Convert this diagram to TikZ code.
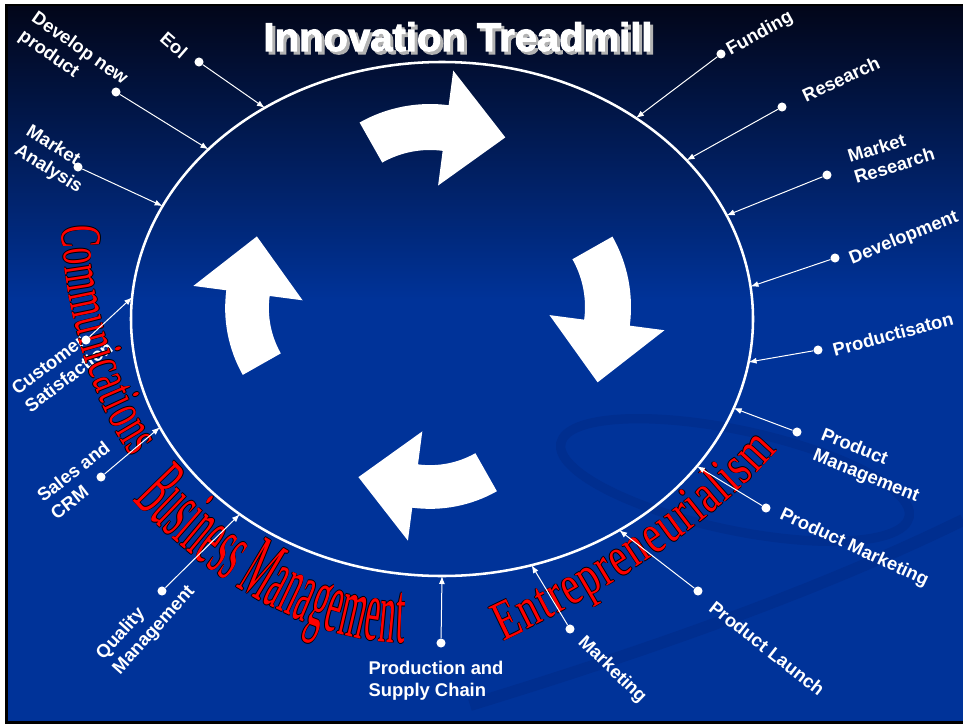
\documentclass[tikz,border=0pt]{standalone}
\usepackage{fontspec}
\setmainfont{Liberation Sans}
\newfontfamily\titleface{Liberation Sans}[BoldFeatures={FakeBold=2.5}]
\newfontfamily\commfont{Liberation Serif}[FakeStretch=0.57]
\newfontfamily\busfont{Liberation Serif}[FakeStretch=0.37]
\newfontfamily\entfont{Liberation Serif}[FakeStretch=0.72]
\usetikzlibrary{arrows.meta, shapes.geometric, decorations.text}

\definecolor{slideblue}{RGB}{0,51,153}
\definecolor{slidetop}{RGB}{2,6,26}
\definecolor{swirl}{RGB}{0,46,143}
\definecolor{artred}{RGB}{255,0,0}

% curved block arrow round its own centre: x, y, rotation, scale
\newcommand\turnarrow[4]{%
  \fill[white, shift={(#1,#2)}, rotate=#3, scale=#4]
    (119.5:143) arc[start angle=119.5, end angle=82.5, radius=143]
    -- (82.5:178) -- (55.5:133) -- (82.5:62) -- (82.5:97)
    arc[start angle=82.5, end angle=119.5, radius=97] -- cycle;}

% red lettering along a path, with a thin black rim
\newcommand\artword[3]{%
  \foreach \dx/\dy in {-0.7/0, 0.7/0, 0/-0.7, 0/0.7}
    \path[shift={(\dx,\dy)}, decorate, decoration={text along path,
      text align=fit to path, text color=black, text={|#1|#2}}] #3;
  \path[decorate, decoration={text along path,
    text align=fit to path, text color=artred, text={|#1|#2}}] #3;}

\begin{document}
\begin{tikzpicture}[x=0.75pt, y=0.75pt]

\useasboundingbox (0,0) rectangle (963,-724);

% slide background
\fill[white] (0,0) rectangle (963,-724);
\fill[black] (5,-4) rectangle (963,-724);
\fill[slideblue] (8,-7) rectangle (963,-721);
\shade[top color=slidetop, bottom color=slideblue] (8,-7) rectangle (963,-300);
\draw[swirl, line width=7pt, rotate around={-12:(735,-480)}]
  (735,-480) ellipse [x radius=178, y radius=50];
\draw[swirl, line width=9pt] (470,-705) .. controls (650,-650) and (820,-590) .. (963,-520);

% title
\begin{scope}[every node/.style={anchor=base, font=\titleface\bfseries\fontsize{30}{31}\selectfont}]
\node[text=gray!60] (shadow) at (461,-54) {Innovation Treadmill};
\node[text=white] (title) at (458,-51) {Innovation Treadmill};
\end{scope}

% the treadmill
\node[ellipse, draw=white, line width=1.9pt, minimum width=466.5pt, minimum height=385.5pt,
  inner sep=0pt, outer sep=0pt] (loop) at (442,-319) {};

\turnarrow{430}{-247}{0}{1}
\turnarrow{488}{-307}{-90}{1}
\turnarrow{430}{-373}{180}{0.95}
\turnarrow{361}{-308}{90}{0.95}

% stages round the loop
\begin{scope}[every node/.style={text=white, align=left, inner sep=0pt,
  font=\bfseries\fontsize{13.8}{16.5}\selectfont}]
\node (eol) at (174,-45) [rotate=-41] {Eol};
\node (newprod) at (73,-58) [rotate=-35] {Develop new\\product};
\node (mktan) at (54,-160) [rotate=-32] {Market\\Analysis};
\node (custsat) at (62,-368) [rotate=37] {Customer\\Satisfaction};
\node (sales) at (80,-480) [rotate=38] {Sales and\\CRM};
\node (quality) at (146,-623) [rotate=48] {Quality\\Management};
\node (supply) at (436,-681) {Production and\\Supply Chain};
\node (mkting) at (612,-670) [rotate=-44] {Marketing};
\node (launch) at (767,-648) [rotate=-38] {Product Launch};
\node (prodmkt) at (854,-548) [rotate=-25] {Product Marketing};
\node (prodmgmt) at (870,-466) [rotate=-22] {Product\\Management};
\node (prodn) at (893,-334) [rotate=15] {Productisaton};
\node (devel) at (904,-238) [rotate=22] {Development};
\node (mktres) at (891,-155) [rotate=17] {Market\\Research};
\node (research) at (841,-79) [rotate=25] {Research};
\node (funding) at (760,-34) [rotate=29] {Funding};
\end{scope}

% word art
\artword{\commfont\fontsize{43.5}{50}\selectfont}{Communications}
  {(62,-226) .. controls (63,-300) and (90,-400) .. (132,-457)}
\artword{\busfont\fontsize{66}{72}\selectfont}{Business Management}
  {(133,-500) .. controls (178,-548) and (280,-640) .. (404,-643)}
\artword{\entfont\fontsize{42}{48}\selectfont}{Entrepreneurialism}
  {(503,-641) .. controls (570,-610) and (700,-540) .. (777,-450)}

\begin{scope}[every node/.style={circle, fill=white, inner sep=0pt, minimum size=6.8pt}]
\node (d-eol) at (199,-62) {};
\node (d-newprod) at (116,-92) {};
\node (d-mktan) at (78,-167) {};
\node (d-custsat) at (86,-340) {};
\node (d-sales) at (101,-477) {};
\node (d-quality) at (162,-591) {};
\node (d-supply) at (441,-643) {};
\node (d-mkting) at (570,-629) {};
\node (d-launch) at (698,-591) {};
\node (d-prodmkt) at (766,-508) {};
\node (d-prodmgmt) at (797,-432) {};
\node (d-prodn) at (818,-350) {};
\node (d-devel) at (835,-258) {};
\node (d-mktres) at (827,-175) {};
\node (d-research) at (782,-107) {};
\node (d-funding) at (721,-54) {};
\end{scope}

\begin{scope}[white, line width=0.75pt, -{Latex[length=6pt, width=4.5pt]}]
\draw (d-eol) -- (loop.130);
\draw (d-newprod) -- (loop.144);
\draw (d-mktan) -- (loop.158);
\draw (d-custsat) -- (loop.176);
\draw (d-sales) -- (loop.201);
\draw (d-quality) -- (loop.224);
\draw (d-supply) -- (loop.270);
\draw (d-mkting) -- (loop.290);
\draw (d-launch) -- (loop.310);
\draw (d-prodmkt) -- (loop.330);
\draw (d-prodmgmt) -- (loop.343);
\draw (d-prodn) -- (loop.352);
\draw (d-devel) -- (loop.6);
\draw (d-mktres) -- (loop.20);
\draw (d-research) -- (loop.33);
\draw (d-funding) -- (loop.46);
\end{scope}

\end{tikzpicture}
\end{document}
